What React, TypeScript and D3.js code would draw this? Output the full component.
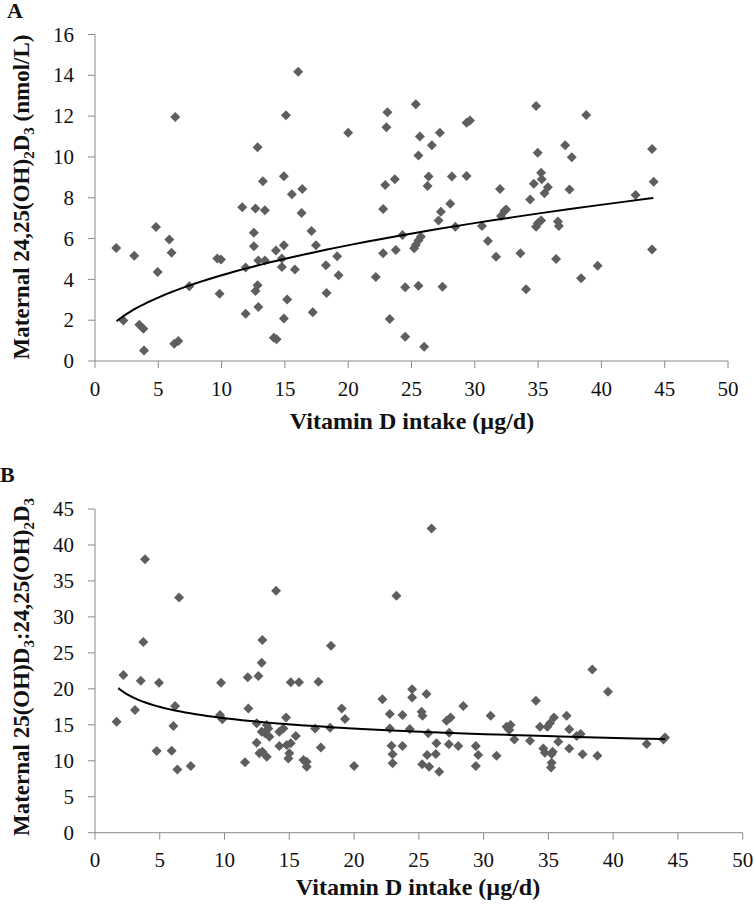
import React from "react";
import * as d3 from "d3";

// Panel A: Maternal 24,25(OH)2D3 (nmol/L) vs vitamin D intake (µg/d)
const intakeA: number[] = [
  1.68, 2.24, 3.1, 3.5, 3.82, 3.87, 4.82, 4.95, 5.87, 6.05, 6.34, 6.26, 6.58, 7.45,
  9.66, 9.95, 9.84, 11.63, 11.9, 11.9, 12.55, 12.55, 12.68, 12.84, 12.68, 12.84, 12.9, 12.9,
  13.26, 13.42, 13.42, 14.29, 14.13, 14.34, 14.76, 14.76, 14.92, 14.92, 15.08, 14.92, 15.18,
  15.55, 15.79, 16.05, 16.37, 16.32, 17.1, 17.2, 17.45, 18.24, 18.29, 19.13, 19.24, 20.0,
  22.18, 23.1, 23.02, 22.92, 23.68, 22.76, 22.76, 23.76, 23.28, 24.29, 24.5, 24.5, 25.34,
  25.66, 25.55, 25.55, 26.0, 25.21, 25.34, 25.55, 25.74, 26.35, 26.27, 26.61, 27.24, 27.14,
  27.32, 27.45, 28.06, 28.19, 28.46, 29.35, 29.35, 29.62, 30.57, 31.04, 31.68, 31.99, 32.07,
  32.34, 32.47, 33.6, 34.05, 34.37, 34.66, 34.84, 34.97, 35.24, 35.29, 34.84, 34.97, 35.24,
  35.5, 35.77, 36.42, 36.56, 36.64, 37.14, 37.48, 37.66, 38.4, 38.8, 39.7, 42.7, 44.0, 44.13, 44.0,
];
const levelA: number[] = [
  5.54, 1.99, 5.16, 1.78, 1.58, 0.52, 6.57, 4.36, 5.96, 5.31, 11.96, 0.85, 0.98, 3.66,
  5.02, 4.98, 3.3, 7.53, 4.58, 2.32, 6.29, 5.62, 7.47, 10.47, 3.43, 3.71, 2.65, 4.93,
  8.81, 7.39, 4.93, 5.42, 1.14, 1.06, 5.02, 4.61, 5.67, 9.05, 12.04, 2.08, 3.01,
  8.17, 4.48, 14.18, 8.43, 7.25, 6.37, 2.39, 5.67, 4.69, 3.33, 5.13, 4.2, 11.18,
  4.12, 12.19, 11.45, 8.63, 8.91, 7.45, 5.28, 5.44, 2.06, 6.18, 3.61, 1.19, 12.58,
  11.0, 10.07, 3.69, 0.7, 5.52, 5.69, 5.9, 6.09, 9.04, 8.58, 10.57, 11.19, 6.88,
  7.32, 3.64, 7.7, 9.04, 6.58, 9.07, 11.68, 11.78, 6.62, 5.88, 5.11, 8.43, 7.1,
  7.35, 7.43, 5.28, 3.51, 7.92, 8.68, 12.5, 10.21, 9.23, 8.91, 6.58, 6.75, 6.88,
  8.22, 8.51, 5.0, 6.83, 6.62, 10.57, 8.41, 9.98, 4.05, 12.06, 4.67, 8.14, 10.39, 8.79, 5.47,
];

// Panel B: Maternal 25(OH)D3:24,25(OH)2D3 ratio vs vitamin D intake (µg/d)
const intakeB: number[] = [
  1.67, 2.19, 3.09, 3.53, 3.73, 3.86, 4.76, 4.94, 5.92, 6.05, 6.18, 6.36, 6.49, 7.39,
  9.73, 9.65, 9.83, 11.58, 11.84, 11.79, 12.61, 12.87, 12.92, 12.48, 12.48, 12.69, 12.92,
  12.87, 13.13, 13.26, 13.26, 13.46, 13.38, 13.98, 14.23, 14.23, 14.54, 14.75, 14.8, 14.93,
  15.0, 15.11, 15.11, 15.5, 15.75, 16.09, 16.34, 16.34, 16.99, 17.25, 17.43, 18.15, 18.22,
  19.05, 19.3, 20.0,
  22.19, 22.76, 22.76, 22.89, 22.97, 22.97, 23.27, 23.74, 23.74, 24.3, 24.48, 24.48, 25.21,
  25.28, 25.26, 25.59, 25.72, 25.64, 25.8, 25.98, 26.31, 26.36, 26.57, 27.14, 27.45, 27.34,
  27.32, 28.04, 28.43, 29.4, 29.58, 29.4, 30.54, 31.0, 31.77, 32.08, 31.98, 32.37, 33.58,
  34.04, 34.35, 34.61, 34.73, 34.92, 35.12, 35.25, 35.33, 35.25, 35.2, 35.43, 35.76, 36.41,
  36.61, 36.61, 37.18, 37.49, 37.64, 38.39, 38.78, 39.6, 42.59, 43.88, 44.0,
];
const ratioB: number[] = [
  15.43, 21.92, 17.05, 21.13, 26.5, 38.0, 11.35, 20.85, 11.4, 14.83, 17.6, 8.8, 32.7, 9.27,
  20.85, 16.36, 15.76, 9.78, 17.28, 21.6, 21.78, 23.63, 26.78, 15.2, 12.51, 11.03, 11.26,
  14.04, 13.81, 10.57, 14.97, 13.35, 14.5, 33.64, 14.04, 12.05, 14.5, 16.03, 12.19, 10.33,
  11.03, 12.42, 20.9, 13.44, 20.9, 10.1, 9.87, 9.17, 14.5, 20.99, 11.86, 14.6, 26.0,
  17.28, 15.8, 9.27,
  18.54, 16.5, 14.5, 12.1, 10.89, 9.64, 32.95, 16.36, 12.05, 14.41, 19.93, 18.81, 16.82,
  16.27, 9.5, 19.28, 13.81, 10.8, 9.17, 42.3, 10.94, 12.42, 8.48, 15.57, 16.03, 13.9,
  12.28, 12.05, 17.61, 12.05, 10.8, 9.27, 16.27, 10.7, 14.74, 14.97, 14.27, 12.97, 12.79,
  18.35, 14.74, 11.72, 11.12, 14.74, 15.2, 10.94, 11.26, 9.73, 9.08, 16.03, 12.65, 16.27,
  14.37, 11.72, 13.44, 13.72, 10.89, 22.7, 10.7, 19.6, 12.33, 12.97, 13.25,
];

// Power trendlines (y = a * x^b) as shown on the chart, with their x-range
const trendA = { a: 1.55, b: 0.433, x0: 1.7, x1: 44.1 };
const trendB = { a: 21.77, b: -0.136, x0: 1.8, x1: 44.0 };

const xTicks: number[] = [0, 5, 10, 15, 20, 25, 30, 35, 40, 45, 50];
const yTicksA: number[] = [0, 2, 4, 6, 8, 10, 12, 14, 16];
const yTicksB: number[] = [0, 5, 10, 15, 20, 25, 30, 35, 40, 45];

const FONT = "'Liberation Serif', 'Times New Roman', serif";
const AXIS = "#8a8a8a";
const MARK = "#5e5e5e";
const TICK_FS = 21;
const TITLE_FS = 24;
const YTITLE_FS = 23;
const SUB_FS = 15;

type Part = { t: string; sub?: boolean };

const yTitleA: Part[] = [
  { t: "Maternal 24,25(OH)" },
  { t: "2", sub: true },
  { t: "D" },
  { t: "3", sub: true },
  { t: " (nmol/L)" },
];
const yTitleB: Part[] = [
  { t: "Maternal 25(OH)D" },
  { t: "3", sub: true },
  { t: ":24,25(OH)" },
  { t: "2", sub: true },
  { t: "D" },
  { t: "3", sub: true },
];

type PanelProps = {
  xs: number[];
  ys: number[];
  yTicks: number[];
  yMax: number;
  xRange: [number, number];
  yRange: [number, number];
  trend: { a: number; b: number; x0: number; x1: number };
  xLabelY: number;
  xTitleX: number;
  xTitleY: number;
  yTitle: Part[];
  yTitleX: number;
  yTitleY: number;
};

function Panel(p: PanelProps) {
  const x = d3.scaleLinear().domain([0, 50]).range(p.xRange);
  const y = d3.scaleLinear().domain([0, p.yMax]).range(p.yRange);
  const sym = d3.symbol().type(d3.symbolSquare).size(50)();
  const tx = d3.range(60).map((i) => p.trend.x0 * Math.pow(p.trend.x1 / p.trend.x0, i / 59));
  const line = d3
    .line<number>()
    .x((v) => x(v))
    .y((v) => y(p.trend.a * Math.pow(v, p.trend.b)))
    .curve(d3.curveMonotoneX);
  const x0 = x(0);
  const y0 = y(0);
  let prevSub = false;
  return (
    <g>
      {/* axes */}
      <line x1={x0} x2={x0} y1={y(p.yMax)} y2={y0} stroke={AXIS} strokeWidth={1} />
      <line x1={x0} x2={x(50)} y1={y0} y2={y0} stroke={AXIS} strokeWidth={1} />
      {p.yTicks.map((t) => (
        <g key={"y" + t}>
          <line x1={x0 - 7} x2={x0} y1={y(t)} y2={y(t)} stroke={AXIS} strokeWidth={1} />
          <text x={74} y={y(t)} dy="0.34em" textAnchor="end" fontSize={TICK_FS} fontFamily={FONT} fill="#111">
            {t}
          </text>
        </g>
      ))}
      {xTicks.map((t) => (
        <g key={"x" + t}>
          <line x1={x(t)} x2={x(t)} y1={y0} y2={y0 + 7} stroke={AXIS} strokeWidth={1} />
          <text x={x(t)} y={p.xLabelY} textAnchor="middle" fontSize={TICK_FS} fontFamily={FONT} fill="#111">
            {t}
          </text>
        </g>
      ))}
      {/* points */}
      {p.xs.map((v, i) => (
        <path
          key={i}
          d={sym || ""}
          transform={`translate(${x(v)},${y(p.ys[i])}) rotate(45)`}
          fill={MARK}
        />
      ))}
      {/* trend */}
      <path d={line(tx) || ""} fill="none" stroke="#000" strokeWidth={2} />
      {/* titles */}
      <text
        x={p.xTitleX}
        y={p.xTitleY}
        textAnchor="middle"
        fontSize={TITLE_FS}
        fontWeight="bold"
        fontFamily={FONT}
        fill="#111"
      >
        Vitamin D intake (µg/d)
      </text>
      <text
        transform={`translate(${p.yTitleX},${p.yTitleY}) rotate(-90)`}
        textAnchor="middle"
        fontSize={YTITLE_FS}
        fontWeight="bold"
        fontFamily={FONT}
        fill="#111"
      >
        {p.yTitle.map((part, i) => {
          const dy = part.sub ? (prevSub ? 0 : 5) : prevSub ? -5 : 0;
          prevSub = !!part.sub;
          return (
            <tspan key={i} dy={dy} fontSize={part.sub ? SUB_FS : undefined}>
              {part.t}
            </tspan>
          );
        })}
      </text>
    </g>
  );
}

export default function App() {
  return (
    <div style={{ position: "absolute", left: 0, top: 0 }}>
      <svg width={754} height={905} style={{ display: "block", background: "#fff" }}>
        <text x={7} y={18} fontSize={22} fontWeight="bold" fontFamily={FONT} fill="#111">
          A
        </text>
        <text x={0} y={482} fontSize={22} fontWeight="bold" fontFamily={FONT} fill="#111">
          B
        </text>
        <Panel
          xs={intakeA}
          ys={levelA}
          yTicks={yTicksA}
          yMax={16}
          xRange={[95, 728]}
          yRange={[361, 34.5]}
          trend={trendA}
          xLabelY={396}
          xTitleX={412}
          xTitleY={429}
          yTitle={yTitleA}
          yTitleX={29}
          yTitleY={197}
        />
        <Panel
          xs={intakeB}
          ys={ratioB}
          yTicks={yTicksB}
          yMax={45}
          xRange={[95, 742.7]}
          yRange={[832.7, 509]}
          trend={trendB}
          xLabelY={867}
          xTitleX={418}
          xTitleY={895}
          yTitle={yTitleB}
          yTitleX={29}
          yTitleY={667}
        />
      </svg>
    </div>
  );
}
